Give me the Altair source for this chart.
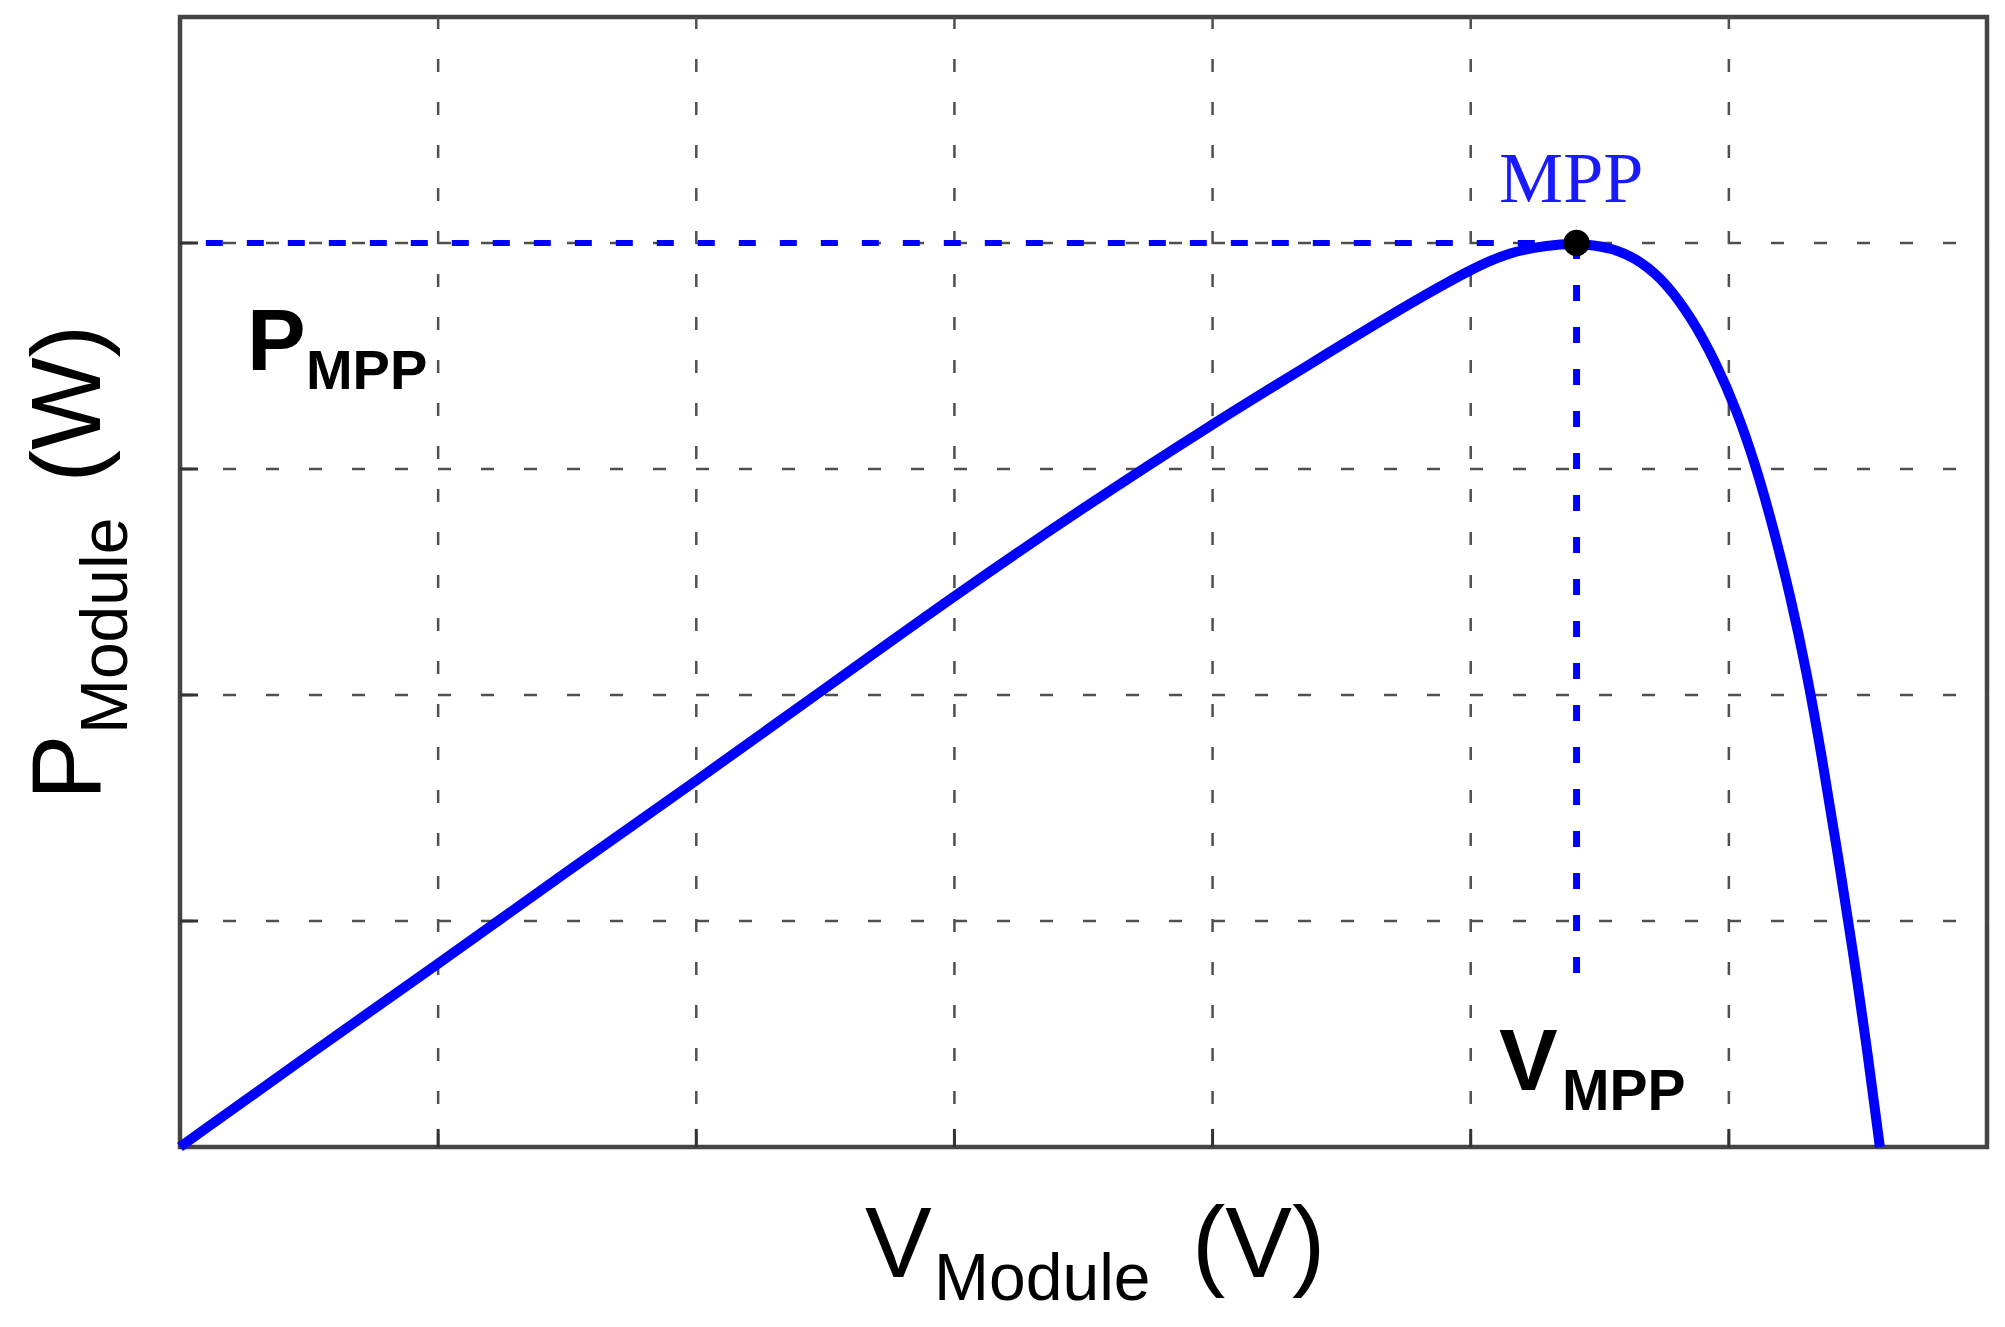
import altair as alt
import pandas as pd

# ---- data ----
v_module = [0.0, 0.5, 1.0, 1.5, 2.0, 2.5, 3.0, 3.5, 4.0, 4.4, 4.7, 5.0, 5.15, 5.3, 5.41,
            5.55, 5.66, 5.76, 5.86, 5.95, 6.03, 6.10, 6.17, 6.24, 6.30, 6.36, 6.42,
            6.48, 6.53, 6.585]
p_module = [0.0, 0.41, 0.81, 1.22, 1.62, 2.03, 2.44, 2.83, 3.2, 3.48, 3.69, 3.885, 3.96, 3.99, 4.0,
            3.98, 3.92, 3.82, 3.66, 3.47, 3.26, 3.03, 2.75, 2.43, 2.11, 1.73, 1.31,
            0.87, 0.48, 0.0]
v_mpp = [5.41]
p_mpp = [4.0]
h_guide_start = [0.1]
v_guide_end = [0.77]
x_grid = [1, 2, 3, 4, 5, 6]
y_grid = [1, 2, 3, 4]
x_domain = [0, 7]
y_domain = [0, 5]

XS = alt.Scale(domain=x_domain, nice=False, zero=False)
YS = alt.Scale(domain=y_domain, nice=False, zero=False)

GRID_STYLE = dict(color="#505050", strokeWidth=2.5, strokeDash=[13, 30])

# dashed grid lines
vgrid_df = pd.DataFrame({"x": x_grid, "y0": [y_domain[0]] * len(x_grid), "y1": [y_domain[1]] * len(x_grid)})
vgrid = alt.Chart(vgrid_df).mark_rule(**GRID_STYLE).encode(
    x=alt.X("x:Q", scale=XS, axis=None),
    y=alt.Y("y0:Q", scale=YS, axis=None),
    y2="y1:Q",
)
hgrid_df = pd.DataFrame({"y": y_grid, "x0": [x_domain[0]] * len(y_grid), "x1": [x_domain[1]] * len(y_grid)})
hgrid = alt.Chart(hgrid_df).mark_rule(**GRID_STYLE).encode(
    y=alt.Y("y:Q", scale=YS, axis=None),
    x=alt.X("x0:Q", scale=XS, axis=None),
    x2="x1:Q",
)

# inward tick marks on left and bottom frame
tick_len_x = 0.07
tick_len_y = 0.08
left_df = pd.DataFrame({"y": y_grid, "x0": [0.0] * len(y_grid), "x1": [tick_len_x] * len(y_grid)})
left_ticks = alt.Chart(left_df).mark_rule(color="#333333", strokeWidth=3).encode(
    y=alt.Y("y:Q", scale=YS, axis=None),
    x=alt.X("x0:Q", scale=XS, axis=None),
    x2="x1:Q",
)
bottom_df = pd.DataFrame({"x": x_grid, "y0": [0.0] * len(x_grid), "y1": [tick_len_y] * len(x_grid)})
bottom_ticks = alt.Chart(bottom_df).mark_rule(color="#333333", strokeWidth=3).encode(
    x=alt.X("x:Q", scale=XS, axis=None),
    y=alt.Y("y0:Q", scale=YS, axis=None),
    y2="y1:Q",
)

curve_df = pd.DataFrame({"v": v_module, "p": p_module})
curve = alt.Chart(curve_df).mark_line(color="#0000ff", strokeWidth=10, interpolate="basis").encode(
    x=alt.X("v:Q", scale=XS, axis=None),
    y=alt.Y("p:Q", scale=YS, axis=None),
)

h_guide = alt.Chart(pd.DataFrame({"x": h_guide_start, "x2": v_mpp, "y": p_mpp})).mark_rule(
    color="#0000ff", strokeWidth=6, strokeDash=[17, 24]).encode(
    x=alt.X("x:Q", scale=XS, axis=None), x2="x2:Q", y=alt.Y("y:Q", scale=YS, axis=None))
v_guide = alt.Chart(pd.DataFrame({"x": v_mpp, "y": p_mpp, "y2": v_guide_end})).mark_rule(
    color="#0000ff", strokeWidth=7, strokeDash=[16, 26]).encode(
    x=alt.X("x:Q", scale=XS, axis=None), y=alt.Y("y:Q", scale=YS, axis=None), y2="y2:Q")

dot = alt.Chart(pd.DataFrame({"v": v_mpp, "p": p_mpp})).mark_point(
    filled=True, color="black", size=700, opacity=1, shape="circle").encode(
    x=alt.X("v:Q", scale=XS, axis=None), y=alt.Y("p:Q", scale=YS, axis=None))


def txt(label, x, y, size, weight="normal", font="Liberation Sans", color="black", angle=0):
    df = pd.DataFrame({"t": [label], "x": [x], "y": [y]})
    return alt.Chart(df).mark_text(align="left", baseline="alphabetic", fontSize=size,
                                   fontWeight=weight, font=font, color=color, angle=angle).encode(
        x=alt.X("x:Q", scale=XS, axis=None), y=alt.Y("y:Q", scale=YS, axis=None), text="t:N")


texts = [
    # MPP label (blue, serif)
    txt("MPP", 5.11, 4.18, 72, font="Liberation Serif", color="#1a1aff"),
    # P_MPP
    txt("P", 0.26, 3.44, 88, weight="bold"),
    txt("MPP", 0.488, 3.354, 56, weight="bold"),
    # V_MPP
    txt("V", 5.11, 0.252, 88, weight="bold"),
    txt("MPP", 5.354, 0.164, 57, weight="bold"),
    # x-axis title V_Module (V)
    txt("V", 2.654, -0.575, 100),
    txt("Module", 2.921, -0.677, 66),
    txt("(V)", 3.92, -0.575, 100),
    # y-axis title P_Module (W) rotated
    txt("P", -0.31, 1.535, 98, angle=270),
    txt("Module", -0.205, 1.827, 66, angle=270),
    txt("(W)", -0.31, 2.94, 98, angle=270),
]

chart = alt.layer(vgrid, hgrid, left_ticks, bottom_ticks, h_guide, v_guide, curve, dot, *texts).properties(
    width=1807, height=1130,
    padding={"left": 172, "top": 9, "right": 10, "bottom": 175},
    autosize=alt.AutoSizeParams(type="none"),
    background="white",
).configure_view(stroke="#444444", strokeWidth=4.5)

chart.save("out.html", embed_options={"renderer": "svg", "actions": False})
